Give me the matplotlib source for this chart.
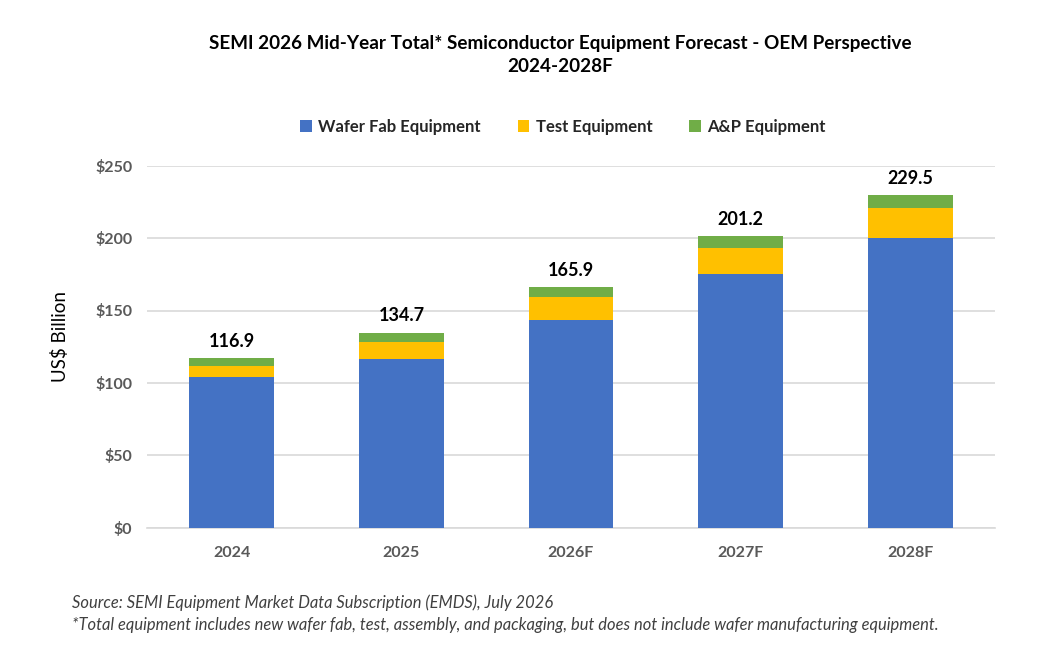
import matplotlib
matplotlib.use("Agg")
import matplotlib.pyplot as plt
import numpy as np

years = ["2024", "2025", "2026F", "2027F", "2028F"]
wafer_fab = [104.0, 116.5, 143.5, 175.0, 200.0]
test_eq = [7.5, 12.0, 15.5, 18.0, 20.9]
ap_eq = [5.4, 6.2, 6.9, 8.2, 8.6]
totals = [116.9, 134.7, 165.9, 201.2, 229.5]
yticks = [0, 50, 100, 150, 200, 250]

plt.rcParams['font.family'] = ['Lato', 'DejaVu Sans']

fig = plt.figure(figsize=(10.49, 6.61), dpi=100)
W, H = 1049, 661
ax = fig.add_axes([147 / W, 1 - 527.7 / H, (995 - 147) / W, (527.7 - 165.7) / H])

x = np.arange(len(years))
bw = 0.5
c_blue, c_yel, c_grn = "#4472C4", "#FFC000", "#70AD47"
ax.bar(x, wafer_fab, bw, color=c_blue, label="Wafer Fab Equipment", zorder=3)
b1 = np.array(wafer_fab)
ax.bar(x, test_eq, bw, bottom=b1, color=c_yel, label="Test Equipment", zorder=3)
b2 = b1 + np.array(test_eq)
ax.bar(x, ap_eq, bw, bottom=b2, color=c_grn, label="A&P Equipment", zorder=3)

for xi, t in zip(x, totals):
    ax.text(xi, t + 6, f"{t:.1f}", ha="center", va="bottom", fontsize=13,
            fontweight="bold", color="black")

ax.set_xlim(-0.5, len(years) - 0.5)
ax.set_ylim(0, 250)
ax.set_yticks(yticks)
ax.set_yticklabels([f"${v}" for v in yticks])
ax.set_xticks(x)
ax.set_xticklabels(years)
ax.yaxis.grid(True, color="#D9D9D9", linewidth=1.2, zorder=0)
for s in ["top", "right", "left"]:
    ax.spines[s].set_visible(False)
ax.spines["bottom"].set_color("#D9D9D9")
ax.spines["bottom"].set_linewidth(1.2)
ax.tick_params(axis="both", length=0, colors="#595959", labelsize=11.5)
ax.tick_params(axis="y", pad=10.5)
ax.tick_params(axis="x", pad=13)
for lab in ax.get_xticklabels() + ax.get_yticklabels():
    lab.set_fontweight("bold")

fig.text(60 / W, 1 - 336 / H, "US$ Billion", rotation=90, ha="center", va="center",
         fontsize=13.5, color="black")

fig.text(560 / W, 1 - 43 / H, "SEMI 2026 Mid-Year Total* Semiconductor Equipment Forecast - OEM Perspective",
         ha="center", va="center", fontsize=13.6, fontweight="bold")
fig.text(560 / W, 1 - 67 / H, "2024-2028F", ha="center", va="center", fontsize=13.6,
         fontweight="bold")

leg = fig.legend(loc="center", bbox_to_anchor=(563 / W, 1 - 127 / H), ncol=3, frameon=False,
                 fontsize=12, handlelength=0.7, handleheight=0.7, columnspacing=2.2,
                 handletextpad=0.4)
for t in leg.get_texts():
    t.set_fontweight("bold")
    t.set_color("#262626")

fig.text(72 / W, 1 - 603 / H, "Source: SEMI Equipment Market Data Subscription (EMDS), July 2026",
         ha="left", va="center", fontsize=11.9, style="italic", color="#404040")
fig.text(72 / W, 1 - 625 / H,
         "*Total equipment includes new wafer fab, test, assembly, and packaging, but does not include wafer manufacturing equipment.",
         ha="left", va="center", fontsize=11.9, style="italic", color="#404040")

fig.savefig("out.png", dpi=100, facecolor="white")
